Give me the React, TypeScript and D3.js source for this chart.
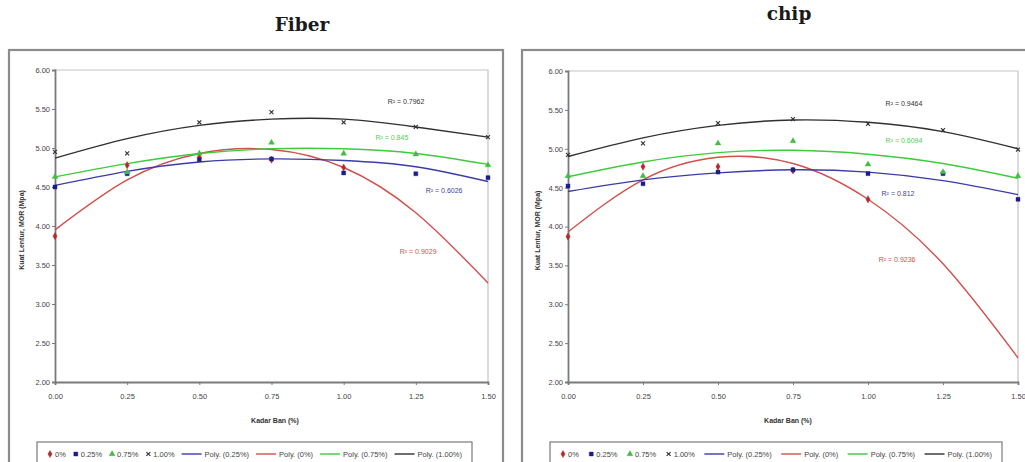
import React, { useRef, useEffect } from "react";
import * as d3 from "d3";

// x values (Kadar Ban, %) and axis ticks
const kadarBan = [0, 0.25, 0.5, 0.75, 1.0, 1.25, 1.5];
const yTickValues = [2.0, 2.5, 3.0, 3.5, 4.0, 4.5, 5.0, 5.5, 6.0];

const seriesNames = ["0%", "0.25%", "0.75%", "1.00%"];
const trendNames = ["Poly. (0.25%)", "Poly. (0%)", "Poly. (0.75%)", "Poly. (1.00%)"];

// Fiber - measured points (null = no point)
const fiber0 = [3.87, 4.78, 4.88, 4.85, 4.75, null, null];
const fiber025 = [4.5, 4.67, 4.85, 4.86, 4.68, 4.67, 4.62];
const fiber075 = [4.63, 4.69, 4.93, 5.07, 4.93, 4.92, 4.78];
const fiber100 = [4.95, 4.93, 5.33, 5.46, 5.33, 5.27, 5.14];
// Fiber - polynomial trend values read at each x
const fiberTrend0 = [3.95, 4.59, 4.93, 4.98, 4.75, 4.17, 3.27];
const fiberTrend025 = [4.52, 4.7, 4.82, 4.86, 4.84, 4.76, 4.57];
const fiberTrend075 = [4.63, 4.8, 4.93, 4.99, 4.99, 4.93, 4.79];
const fiberTrend100 = [4.87, 5.12, 5.29, 5.37, 5.37, 5.27, 5.14];
const fiberR2 = ["R² = 0.9029", "R² = 0.6026", "R² = 0.845", "R² = 0.7962"];

// Chip - measured points
const chip0 = [3.87, 4.77, 4.77, 4.72, 4.35, null, null];
const chip025 = [4.52, 4.55, 4.7, 4.73, 4.68, 4.68, 4.35];
const chip075 = [4.65, 4.65, 5.07, 5.1, 4.8, 4.7, 4.65];
const chip100 = [4.92, 5.07, 5.33, 5.38, 5.32, 5.24, 4.99];
// Chip - polynomial trend values
const chipTrend0 = [3.93, 4.6, 4.89, 4.81, 4.35, 3.52, 2.31];
const chipTrend025 = [4.45, 4.6, 4.69, 4.73, 4.7, 4.59, 4.41];
const chipTrend075 = [4.64, 4.83, 4.95, 4.98, 4.93, 4.81, 4.62];
const chipTrend100 = [4.9, 5.14, 5.3, 5.37, 5.34, 5.22, 5.0];
const chipR2 = ["R² = 0.9236", "R² = 0.812", "R² = 0.6094", "R² = 0.9464"];

// series styles: 0% red, 0.25% blue, 0.75% green, 1.00% black
const lineColors = ["#d0504c", "#3c3ca8", "#3ccc3c", "#303030"];
const markColors = ["#b82828", "#1c1c8c", "#44bb44", "#303030"];
const r2Colors = ["#d05050", "#4444a0", "#55cc55", "#333333"];
const symbols = [d3.symbolDiamond, d3.symbolSquare, d3.symbolTriangle, d3.symbolX];
const symbolSizes = [15, 16, 15, 12];

const panels = [
  {
    title: "Fiber",
    titleX: 302,
    titleY: 31,
    frame: { x: 9, y: 50, w: 494, h: 430 },
    plot: { l: 55, r: 488, t: 70, b: 382 },
    yLabelX: 21,
    xLabelX: 275,
    legend: { x: 37, y: 442, w: 435, h: 22 },
    points: [fiber0, fiber025, fiber075, fiber100],
    trends: [fiberTrend0, fiberTrend025, fiberTrend075, fiberTrend100],
    r2: fiberR2,
    r2At: [
      [1.258, 3.67],
      [1.348, 4.46],
      [1.167, 5.13],
      [1.216, 5.59],
    ],
  },
  {
    title: "chip",
    titleX: 789,
    titleY: 20,
    frame: { x: 522, y: 50, w: 540, h: 430 },
    plot: { l: 568, r: 1018, t: 71, b: 382 },
    yLabelX: 537,
    xLabelX: 788,
    legend: { x: 550, y: 442, w: 452, h: 22 },
    points: [chip0, chip025, chip075, chip100],
    trends: [chipTrend0, chipTrend025, chipTrend075, chipTrend100],
    r2: chipR2,
    r2At: [
      [1.097, 3.58],
      [1.1, 4.42],
      [1.12, 5.1],
      [1.12, 5.58],
    ],
  },
];

const FONT = "'Liberation Sans', Arial, sans-serif";

const Charts = () => {
  const svgRef = useRef(null);

  useEffect(() => {
    const svg = d3.select(svgRef.current);
    svg.selectAll("*").remove();

    panels.forEach((p) => {
      const g = svg.append("g");

      // outer chart frame
      g.append("rect")
        .attr("x", p.frame.x)
        .attr("y", p.frame.y)
        .attr("width", p.frame.w)
        .attr("height", p.frame.h)
        .attr("fill", "#fff")
        .attr("stroke", "#8c8c8c")
        .attr("stroke-width", 2.2);

      // title
      g.append("text")
        .attr("x", p.titleX)
        .attr("y", p.titleY)
        .attr("text-anchor", "middle")
        .attr("font-family", "'DejaVu Serif', serif")
        .attr("font-weight", "bold")
        .attr("font-size", 18.5)
        .attr("fill", "#1a1a1a")
        .text(p.title);

      const x = d3.scaleLinear().domain([0, 1.5]).range([p.plot.l, p.plot.r]);
      const y = d3.scaleLinear().domain([2, 6]).range([p.plot.b, p.plot.t]);

      // plot area top / right border
      g.append("path")
        .attr("d", `M${p.plot.l},${p.plot.t}H${p.plot.r}V${p.plot.b}`)
        .attr("fill", "none")
        .attr("stroke", "#c4c4c4")
        .attr("stroke-width", 1.2);

      // axes
      const yAxis = g
        .append("g")
        .attr("transform", `translate(${p.plot.l},0)`)
        .call(
          d3
            .axisLeft(y)
            .tickValues(yTickValues)
            .tickFormat(d3.format(".2f"))
            .tickSize(3)
            .tickPadding(2)
        );
      const xAxis = g
        .append("g")
        .attr("transform", `translate(0,${p.plot.b})`)
        .call(
          d3
            .axisBottom(x)
            .tickValues(kadarBan)
            .tickFormat(d3.format(".2f"))
            .tickSize(3)
            .tickPadding(9)
        );
      [yAxis, xAxis].forEach((a) => {
        a.select(".domain").attr("stroke", "#7a7a7a").attr("stroke-width", 1.8);
        a.selectAll(".tick line").attr("stroke", "#7a7a7a");
        a.selectAll(".tick text")
          .attr("font-family", FONT)
          .attr("font-size", 7.5)
          .attr("fill", "#444");
      });

      // axis titles
      g.append("text")
        .attr("x", p.xLabelX)
        .attr("y", 423)
        .attr("text-anchor", "middle")
        .attr("font-family", FONT)
        .attr("font-weight", "bold")
        .attr("font-size", 7)
        .attr("fill", "#333")
        .text("Kadar Ban (%)");
      g.append("text")
        .attr("transform", `translate(${p.yLabelX + 2.5},${(p.plot.t + p.plot.b) / 2 + 4}) rotate(-90)`)
        .attr("text-anchor", "middle")
        .attr("font-family", FONT)
        .attr("font-weight", "bold")
        .attr("font-size", 7)
        .attr("fill", "#333")
        .text("Kuat Lentur, MOR (Mpa)");

      // trend lines
      const line = d3
        .line<number>()
        .x((d, i) => x(kadarBan[i]))
        .y((d) => y(d))
        .curve(d3.curveNatural);
      p.trends.forEach((t, si) => {
        g.append("path")
          .datum(t)
          .attr("fill", "none")
          .attr("stroke", lineColors[si])
          .attr("stroke-width", 1.4)
          .attr("d", line);
      });

      // markers
      p.points.forEach((vals, si) => {
        const pts = vals
          .map((v, i) => ({ x: kadarBan[i], v }))
          .filter((d) => d.v != null);
        const sym = d3.symbol().type(symbols[si]).size(symbolSizes[si]);
        g.selectAll(null)
          .data(pts)
          .enter()
          .append("path")
          .attr("transform", (d) => `translate(${x(d.x)},${y(d.v)})`)
          .attr("d", sym)
          .attr("fill", si === 3 ? "none" : markColors[si])
          .attr("stroke", markColors[si])
          .attr("stroke-width", si === 3 ? 1.1 : 0.4);
      });

      // R² labels
      p.r2.forEach((txt, si) => {
        g.append("text")
          .attr("x", x(p.r2At[si][0]))
          .attr("y", y(p.r2At[si][1]) + 2.5)
          .attr("text-anchor", "middle")
          .attr("font-family", FONT)
          .attr("font-size", 7)
          .attr("fill", r2Colors[si])
          .text(txt);
      });

      // legend
      const lg = g.append("g");
      lg.append("rect")
        .attr("x", p.legend.x)
        .attr("y", p.legend.y)
        .attr("width", p.legend.w)
        .attr("height", p.legend.h)
        .attr("fill", "#fff")
        .attr("stroke", "#7a7a7a")
        .attr("stroke-width", 1.2);

      const items = [
        ...seriesNames.map((n, i) => ({ kind: "mark", label: n, si: i })),
        // legend order of trend lines: 0.25%, 0%, 0.75%, 1.00%
        ...trendNames.map((n, i) => ({ kind: "line", label: n, si: [1, 0, 2, 3][i] })),
      ];
      const ly = p.legend.y + p.legend.h / 2 + 1;
      const texts = items.map((it) =>
        lg
          .append("text")
          .attr("y", ly + 2.5)
          .attr("font-family", FONT)
          .attr("font-size", 7.5)
          .attr("fill", "#444")
          .text(it.label)
      );
      const widths = items.map(
        (it, i) => (it.kind === "mark" ? 8 : 23) + (texts[i].node() as SVGTextElement).getComputedTextLength()
      );
      const total = d3.sum(widths);
      const pad = 10;
      const gap = (p.legend.w - 2 * pad - total) / (items.length - 1);
      let cx = p.legend.x + pad;
      items.forEach((it, i) => {
        if (it.kind === "mark") {
          lg.append("path")
            .attr("transform", `translate(${cx + 3},${ly})`)
            .attr("d", d3.symbol().type(symbols[it.si]).size(symbolSizes[it.si]))
            .attr("fill", it.si === 3 ? "none" : markColors[it.si])
            .attr("stroke", markColors[it.si])
            .attr("stroke-width", it.si === 3 ? 1.1 : 0.4);
          texts[i].attr("x", cx + 8);
        } else {
          lg.append("line")
            .attr("x1", cx)
            .attr("x2", cx + 20)
            .attr("y1", ly)
            .attr("y2", ly)
            .attr("stroke", lineColors[it.si])
            .attr("stroke-width", 1.4);
          texts[i].attr("x", cx + 23);
        }
        cx += widths[i] + gap;
      });
    });
  }, []);

  return (
    <svg
      ref={svgRef}
      width={1025}
      height={462}
      style={{ position: "absolute", left: 0, top: 0, background: "#fff" }}
    ></svg>
  );
};

export default function App() {
  return <Charts />;
}
